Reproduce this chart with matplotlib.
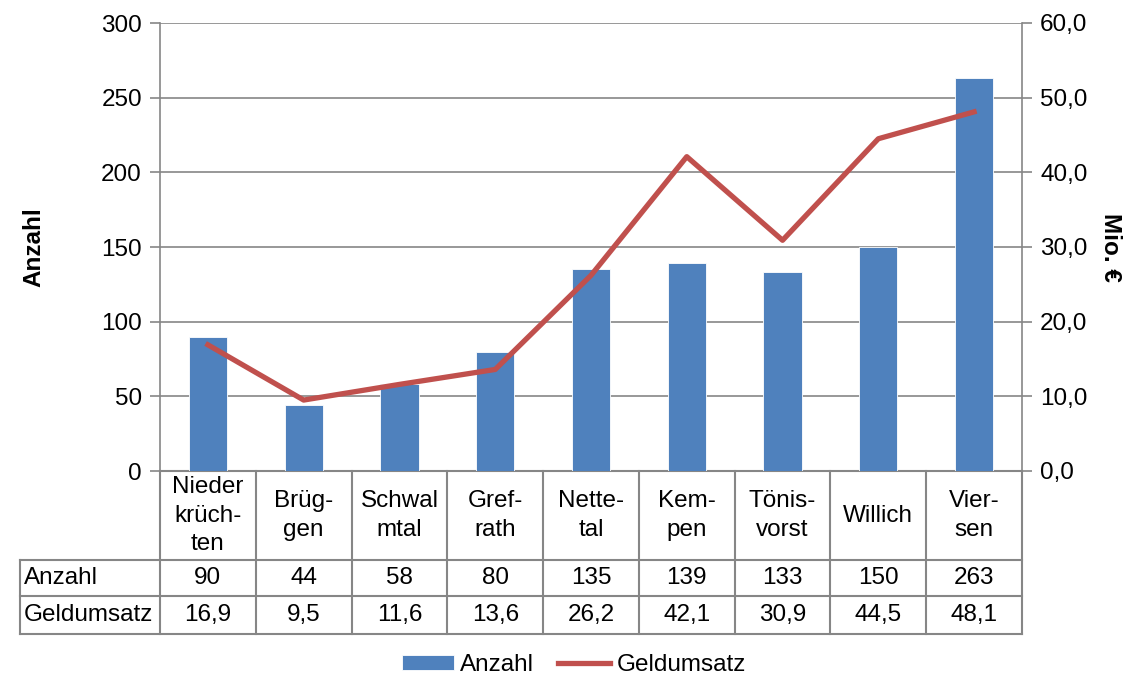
import matplotlib
matplotlib.use("Agg")
from matplotlib import pyplot as plt
from matplotlib import transforms
import numpy as np

plt.rcParams["font.family"] = ["Liberation Sans", "DejaVu Sans"]

# Daten
orte = ["Nieder\nkrüch-\nten", "Brüg-\ngen", "Schwal\nmtal", "Gref-\nrath", "Nette-\ntal",
        "Kem-\npen", "Tönis-\nvorst", "Willich", "Vier-\nsen"]
anzahl = [90, 44, 58, 80, 135, 139, 133, 150, 263]
geldumsatz = [16.9, 9.5, 11.6, 13.6, 26.2, 42.1, 30.9, 44.5, 48.1]
anzahl_ticks = [0, 50, 100, 150, 200, 250, 300]
umsatz_ticks = [0, 10, 20, 30, 40, 50, 60]

BLAU = "#4F81BD"
ROT = "#C0504D"
GRAU = "#868686"
FS = 17.5


def de_format(v):
    return f"{v:.1f}".replace(".", ",")


fig = plt.figure(figsize=(11.25, 6.78), dpi=100)
ax = fig.add_axes([160 / 1125, 1 - 471 / 678, 862 / 1125, 448 / 678])
ax2 = ax.twinx()

x = np.arange(len(orte))
bars = ax.bar(x, anzahl, width=0.4, color=BLAU, edgecolor="white", lw=0.6,
              label="Anzahl", zorder=3)
line, = ax2.plot(x, geldumsatz, color=ROT, lw=3.8, label="Geldumsatz", zorder=4)

ax.set_xlim(-0.5, len(orte) - 0.5)
ax.set_ylim(0, 300)
ax2.set_ylim(0, 60)
ax.set_yticks(anzahl_ticks)
ax2.set_yticks(umsatz_ticks)
ax2.set_yticklabels([de_format(v) for v in umsatz_ticks])
ax.set_xticks([])

ax.grid(axis="y", color=GRAU, lw=1.2, zorder=0)
ax.set_axisbelow(True)
for a in (ax, ax2):
    a.tick_params(axis="y", labelsize=FS, length=7, width=1.2, color=GRAU, pad=6)
    for s in ["top", "bottom"]:
        a.spines[s].set_visible(False)
    for s in ["left", "right"]:
        a.spines[s].set_color(GRAU)
        a.spines[s].set_linewidth(1.2)
ax.spines["right"].set_visible(False)
ax2.spines["left"].set_visible(False)
ax2.set_zorder(ax.get_zorder() + 1)
ax2.patch.set_visible(False)

ax.set_ylabel("Anzahl", fontsize=FS, fontweight="bold", labelpad=40)
fig.text(1110 / 1125, 1 - 247 / 678, "Mio. €", fontsize=FS, fontweight="bold",
         rotation=-90, ha="center", va="center")

# Datentabelle unter dem Diagramm
trans = transforms.blended_transform_factory(ax.transData, ax.transAxes)
y_kat = -89 / 448
y_anz = -125 / 448
y_geld = -163 / 448
x_lab = -0.5 - 140 / (862 / len(orte))
tab_kw = dict(color=GRAU, lw=1.5, transform=trans, clip_on=False)

ax.plot([-0.5, len(orte) - 0.5], [0, 0], **tab_kw)
for yy in (y_kat, y_anz, y_geld):
    ax.plot([x_lab, len(orte) - 0.5], [yy, yy], **tab_kw)
for xx in np.arange(len(orte) + 1) - 0.5:
    ax.plot([xx, xx], [0, y_geld], **tab_kw)
ax.plot([x_lab, x_lab], [y_kat, y_geld], **tab_kw)

for i, name in enumerate(orte):
    ax.text(i, y_kat / 2, name, ha="center", va="center", fontsize=FS,
            linespacing=1.38, transform=trans)
    ax.text(i, (y_kat + y_anz) / 2, str(anzahl[i]), ha="center", va="center",
            fontsize=FS, transform=trans)
    ax.text(i, (y_anz + y_geld) / 2, de_format(geldumsatz[i]), ha="center",
            va="center", fontsize=FS, transform=trans)
ax.text(x_lab + 0.04, (y_kat + y_anz) / 2, "Anzahl", ha="left", va="center",
        fontsize=FS, transform=trans)
ax.text(x_lab + 0.04, (y_anz + y_geld) / 2, "Geldumsatz", ha="left", va="center",
        fontsize=FS, transform=trans)

fig.legend([bars, line], ["Anzahl", "Geldumsatz"], loc="center", ncol=2,
           bbox_to_anchor=(574 / 1125, 1 - 665 / 678), frameon=False,
           fontsize=FS, handlelength=2.14, handletextpad=0.25, columnspacing=1.0,
           handleheight=0.62, borderpad=0.1)

fig.savefig("out.png", dpi=100)
